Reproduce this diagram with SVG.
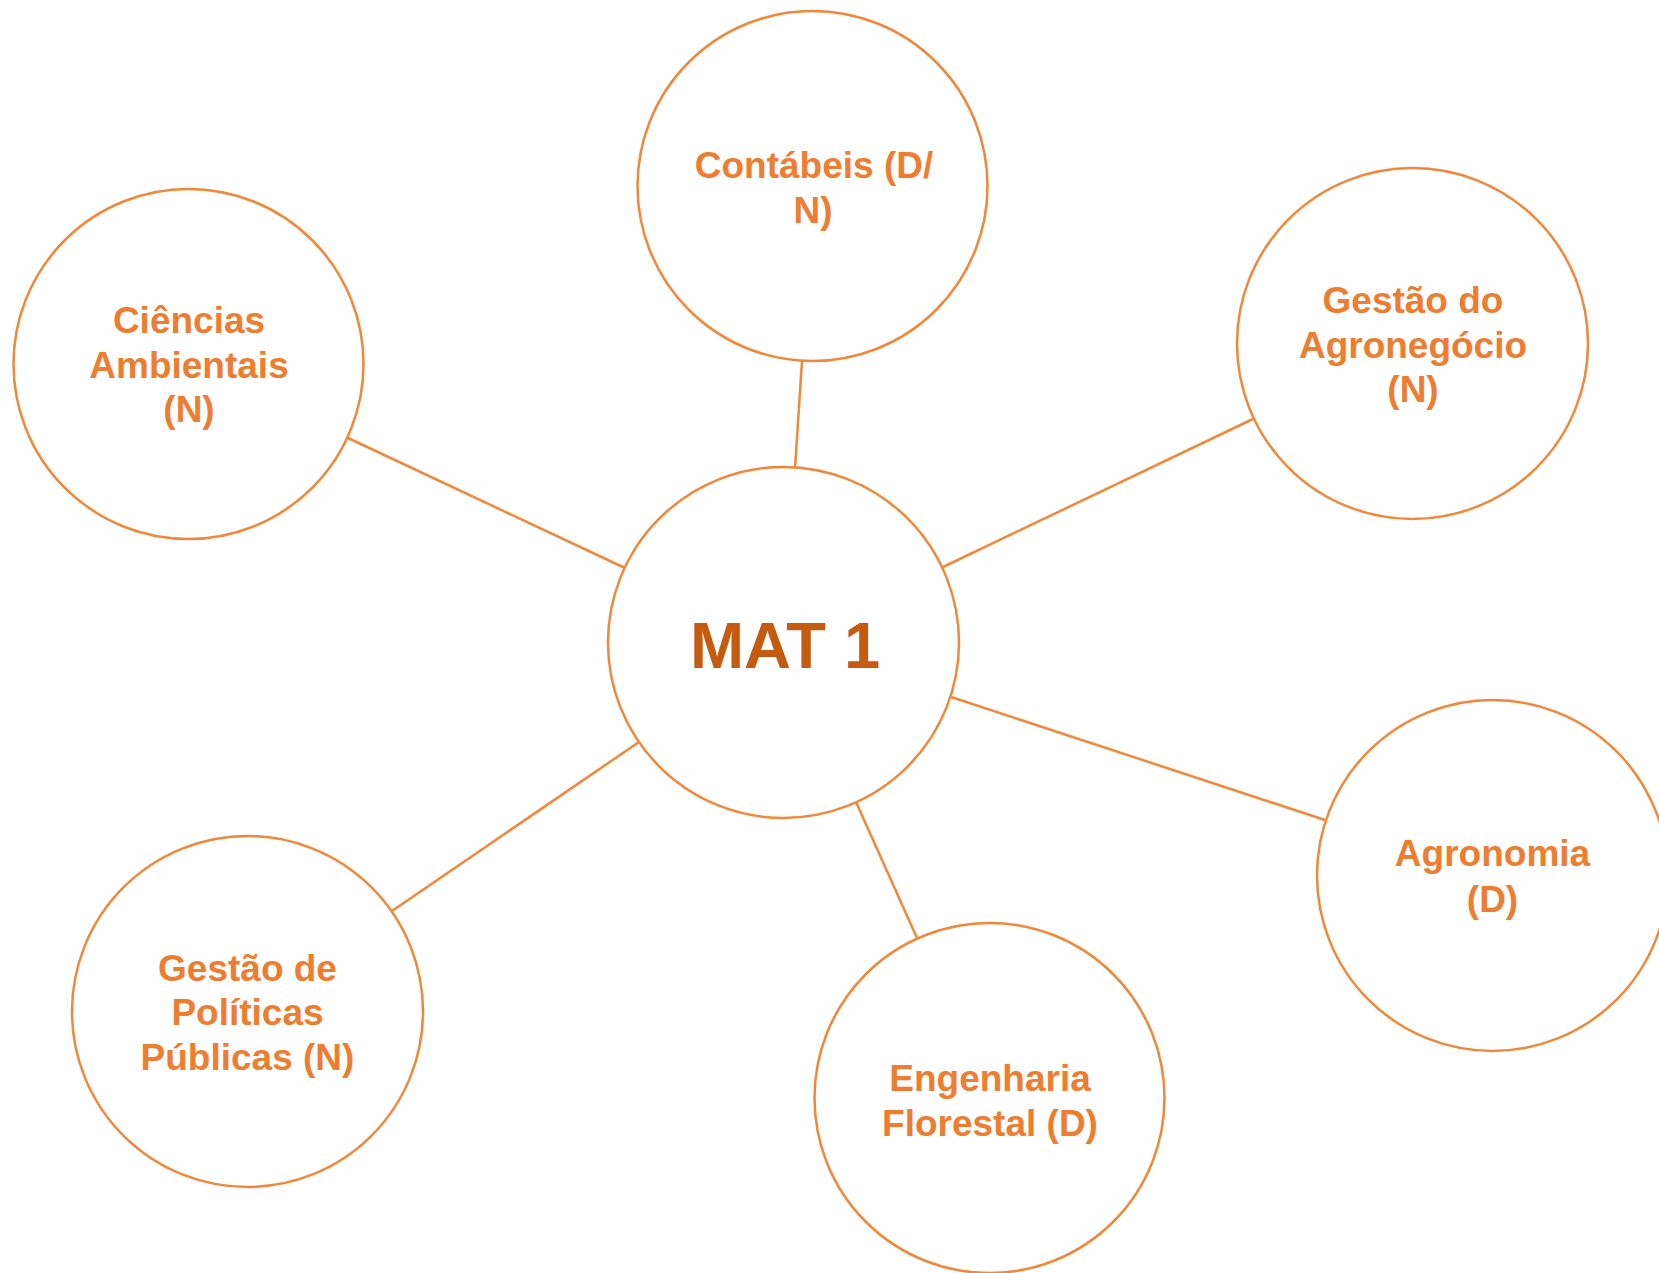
<svg xmlns="http://www.w3.org/2000/svg" width="1659" height="1273" viewBox="0 0 1659 1273">
<style>
.node circle{fill:#FFFFFF;stroke:#F0883A;stroke-width:2.5}
.lbl{font-family:"Liberation Sans",Arial,sans-serif;font-weight:bold;font-size:37px;fill:#ED7D31;text-anchor:middle}
.main{font-family:"Liberation Sans",Arial,sans-serif;font-weight:bold;font-size:65px;fill:#C55A11;text-anchor:middle}
#connectors line{stroke:#F0883A;stroke-width:2.5}
</style>
<rect width="1659" height="1273" fill="#FFFFFF"/>
<g id="connectors">
<line x1="802" y1="361" x2="795" y2="468"/>
<line x1="348" y1="438" x2="625" y2="568"/>
<line x1="1253" y1="419" x2="943" y2="567"/>
<line x1="1325" y1="820" x2="951" y2="697"/>
<line x1="917" y1="938" x2="856" y2="802"/>
<line x1="392" y1="911" x2="639" y2="742"/>
</g>
<g id="mat1" class="node">
<circle cx="783.5" cy="642.5" r="175.5"/>
<text class="main" x="785" y="668">MAT 1</text>
</g>
<g id="contabeis" class="node">
<circle cx="812.5" cy="186" r="175"/>
<text class="lbl" x="814" y="178">Contábeis (D/</text>
<text class="lbl" x="813" y="223">N)</text>
</g>
<g id="ciencias" class="node">
<circle cx="188.5" cy="364" r="175"/>
<text class="lbl" x="189" y="333">Ciências</text>
<text class="lbl" x="189" y="378">Ambientais</text>
<text class="lbl" x="189" y="422">(N)</text>
</g>
<g id="agronegocio" class="node">
<circle cx="1412.5" cy="343.5" r="175.5"/>
<text class="lbl" x="1413" y="313">Gestão do</text>
<text class="lbl" x="1413" y="358">Agronegócio</text>
<text class="lbl" x="1413" y="402">(N)</text>
</g>
<g id="agronomia" class="node">
<circle cx="1492.5" cy="875.5" r="175.5"/>
<text class="lbl" x="1492.5" y="866">Agronomia</text>
<text class="lbl" x="1492.5" y="912">(D)</text>
</g>
<g id="politicas" class="node">
<circle cx="247.5" cy="1011.5" r="175.5"/>
<text class="lbl" x="247.5" y="981">Gestão de</text>
<text class="lbl" x="247.5" y="1025">Políticas</text>
<text class="lbl" x="247.5" y="1070">Públicas (N)</text>
</g>
<g id="engenharia" class="node">
<circle cx="989.5" cy="1098" r="175"/>
<text class="lbl" x="990" y="1091">Engenharia</text>
<text class="lbl" x="990" y="1136">Florestal (D)</text>
</g>
</svg>
